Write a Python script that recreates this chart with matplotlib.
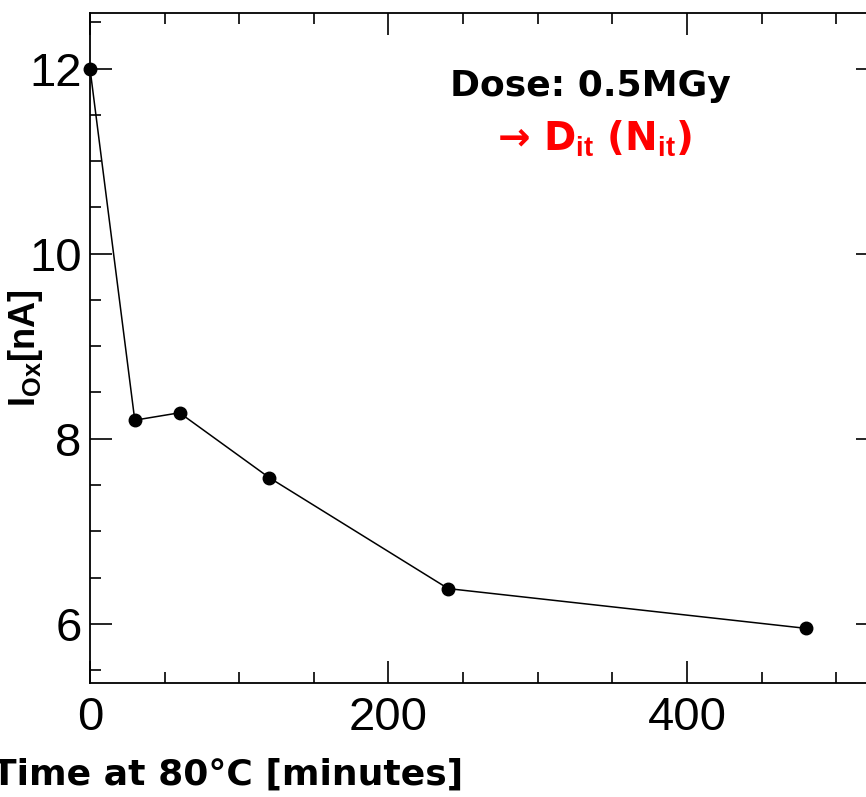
import matplotlib
matplotlib.use("Agg")
import matplotlib.pyplot as plt
from matplotlib.ticker import MultipleLocator

# annealing time at 80 C vs oxide current
time_min = [0, 30, 60, 120, 240, 480]
i_ox = [12.0, 8.2, 8.28, 7.58, 6.38, 5.95]
x_ticks = [0, 200, 400]
y_ticks = [6, 8, 10, 12]

plt.rcParams['mathtext.fontset'] = 'custom'
plt.rcParams['mathtext.rm'] = 'Liberation Sans'
plt.rcParams['mathtext.bf'] = 'Liberation Sans:bold'

fig = plt.figure(figsize=(8.66, 7.97), dpi=100)
ax = fig.add_axes([90 / 866, 114 / 797, (878 - 90) / 866, (683 - 13) / 797])

ax.plot(time_min, i_ox, color='black', lw=1.1, marker='o', ms=9, clip_on=False, zorder=3)

ax.set_xlim(0, 528)
ax.set_ylim(5.36, 12.6)
ax.set_xticks(x_ticks)
ax.set_yticks(y_ticks)
ax.xaxis.set_minor_locator(MultipleLocator(50))
ax.yaxis.set_minor_locator(MultipleLocator(0.5))
ax.tick_params(which='both', direction='in', top=True, right=True, width=1.2)
ax.tick_params(which='major', length=16, labelsize=34, pad=6)
ax.tick_params(which='minor', length=8)
ax.tick_params(axis='x', which='major', pad=9)
for lab in ax.get_xticklabels() + ax.get_yticklabels():
    lab.set_family(['Liberation Sans Narrow', 'Liberation Sans'])
for s in ax.spines.values():
    s.set_linewidth(1.3)

ax.set_ylabel(r'I$_{\mathbf{Ox}}$[nA]', fontsize=26, fontweight='bold', family='Liberation Sans')
ax.yaxis.set_label_coords(-45 / 788, 0.5)

fig.text(463 / 866, 1 - 785 / 797, 'Time at 80°C [minutes]', ha='right', va='baseline',
         fontsize=26, fontweight='bold', family='DejaVu Sans')

fig.text(590 / 866, 1 - 96 / 797, 'Dose: 0.5MGy', ha='center', va='baseline',
         fontsize=26, fontweight='bold', family='DejaVu Sans')
fig.text(594 / 866, 1 - 151 / 797, r'→ D$_{\mathbf{it}}$ (N$_{\mathbf{it}}$)', ha='center',
         va='baseline', fontsize=28, fontweight='bold', color='#ff0000', family='DejaVu Sans')

fig.savefig('out.png', dpi=100)
